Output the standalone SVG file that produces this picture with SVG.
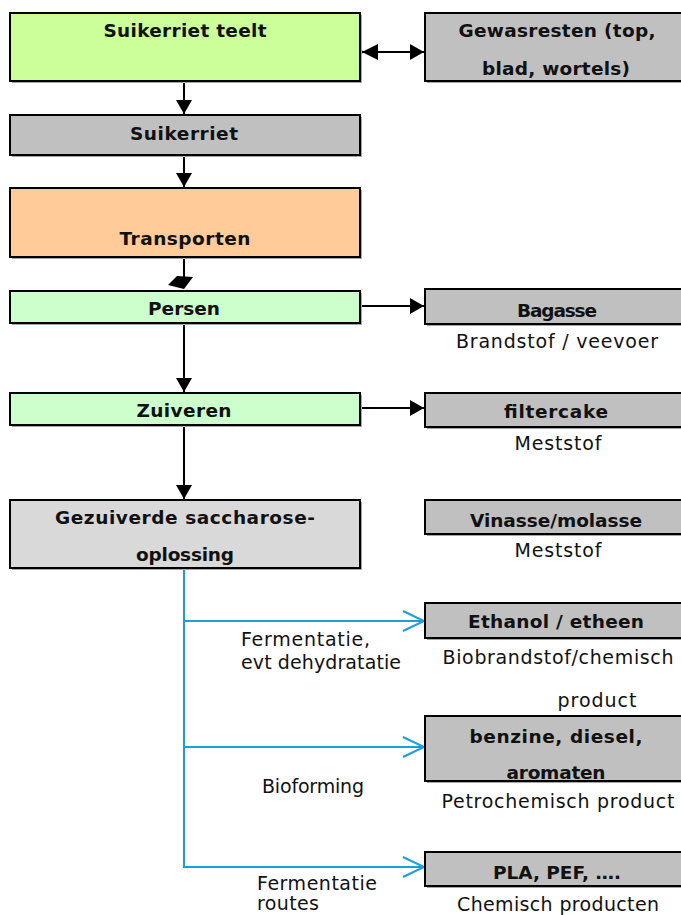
<svg xmlns="http://www.w3.org/2000/svg" width="681" height="915" viewBox="0 0 681 915">
<style>
.box{stroke:#000;stroke-width:2}
.sh{fill:#a6a6a6}
.b{font-family:"DejaVu Sans",sans-serif;font-weight:bold;font-size:18.5px;fill:#111;text-anchor:middle}
.r{font-family:"DejaVu Sans",sans-serif;font-size:19px;fill:#111;text-anchor:middle}
.l{font-family:"DejaVu Sans",sans-serif;font-size:19px;fill:#111}
.k{stroke:#000;stroke-width:2;fill:none}
.bl{stroke:#1a9fdb;stroke-width:2;fill:none}
</style>
<defs>
<marker id="ah" markerWidth="16" markerHeight="16" refX="14" refY="8" orient="auto" markerUnits="userSpaceOnUse">
<path d="M0,0 L14,8 L0,16 Z" fill="#000"/>
</marker>
<marker id="ob" markerWidth="26" markerHeight="24" refX="22" refY="12" orient="auto" markerUnits="userSpaceOnUse">
<path d="M1,2 L22,12 L1,22" fill="none" stroke="#1a9fdb" stroke-width="2"/>
</marker>
</defs>

<g id="connectors">
<line class="k" x1="184" y1="81" x2="184" y2="114" marker-end="url(#ah)"/>
<line class="k" x1="184" y1="155" x2="184" y2="187" marker-end="url(#ah)"/>
<line class="k" x1="184" y1="257" x2="184" y2="277"/>
<polygon points="177,276 193,277 184,289 168,285" fill="#000"/>
<line class="k" x1="184" y1="323" x2="184" y2="392" marker-end="url(#ah)"/>
<line class="k" x1="184" y1="425" x2="184" y2="499" marker-end="url(#ah)"/>
<circle cx="359" cy="52" r="3.5" fill="#000"/>
<line class="k" x1="362" y1="52" x2="424" y2="52" marker-end="url(#ah)"/>
<polygon points="362,52 378,44 378,60" fill="#000"/>
<line class="k" x1="360" y1="306" x2="424" y2="306" marker-end="url(#ah)"/>
<line class="k" x1="360" y1="408" x2="424" y2="408" marker-end="url(#ah)"/>
<line class="bl" x1="184" y1="568" x2="184" y2="868"/>
<line class="bl" x1="183" y1="621" x2="424" y2="621" marker-end="url(#ob)"/>
<line class="bl" x1="183" y1="747" x2="424" y2="747" marker-end="url(#ob)"/>
<line class="bl" x1="183" y1="867" x2="424" y2="867" marker-end="url(#ob)"/>
<text class="l" x="241" y="646" textLength="129" lengthAdjust="spacing">Fermentatie,</text>
<text class="l" x="241" y="669" textLength="160" lengthAdjust="spacing">evt dehydratatie</text>
<text class="l" x="262" y="793" textLength="102" lengthAdjust="spacing">Bioforming</text>
<text class="l" x="257" y="890" textLength="120" lengthAdjust="spacing">Fermentatie</text>
<text class="l" x="257" y="910" textLength="62" lengthAdjust="spacing">routes</text>
</g>

<g id="n-teelt">
<rect class="sh" x="12" y="15" width="350" height="68"/>
<rect class="box" x="10" y="13" width="350" height="68" fill="#ccff99"/>
<text class="b" x="185" y="37" textLength="163" lengthAdjust="spacing">Suikerriet teelt</text>
</g>
<g id="n-suikerriet">
<rect class="sh" x="12" y="117" width="350" height="40"/>
<rect class="box" x="10" y="115" width="350" height="40" fill="#c0c0c0"/>
<text class="b" x="184" y="140" textLength="108" lengthAdjust="spacing">Suikerriet</text>
</g>
<g id="n-transporten">
<rect class="sh" x="12" y="190" width="350" height="69"/>
<rect class="box" x="10" y="188" width="350" height="69" fill="#ffcc99"/>
<text class="b" x="185" y="245" textLength="131" lengthAdjust="spacing">Transporten</text>
</g>
<g id="n-persen">
<rect class="sh" x="12" y="293" width="350" height="32"/>
<rect class="box" x="10" y="291" width="350" height="32" fill="#ccffcc"/>
<text class="b" x="184" y="315" textLength="72" lengthAdjust="spacing">Persen</text>
</g>
<g id="n-zuiveren">
<rect class="sh" x="12" y="395" width="350" height="32"/>
<rect class="box" x="10" y="393" width="350" height="32" fill="#ccffcc"/>
<text class="b" x="184" y="417" textLength="95" lengthAdjust="spacing">Zuiveren</text>
</g>
<g id="n-gezuiverde">
<rect class="sh" x="12" y="502" width="350" height="68"/>
<rect class="box" x="10" y="500" width="350" height="68" fill="#d9d9d9"/>
<text class="b" x="185" y="524" textLength="260" lengthAdjust="spacing">Gezuiverde saccharose-</text>
<text class="b" x="185" y="561" textLength="98" lengthAdjust="spacing">oplossing</text>
</g>

<g id="n-gewasresten">
<rect class="sh" x="427" y="15" width="265" height="68"/>
<rect class="box" x="425" y="13" width="265" height="68" fill="#c0c0c0"/>
<text class="b" x="557" y="37" textLength="197" lengthAdjust="spacing">Gewasresten (top,</text>
<text class="b" x="556" y="75" textLength="148" lengthAdjust="spacing">blad, wortels)</text>
</g>
<g id="n-bagasse">
<rect class="sh" x="427" y="291" width="265" height="35"/>
<rect class="box" x="425" y="289" width="265" height="35" fill="#c0c0c0"/>
<text class="b" x="557" y="317" textLength="80" lengthAdjust="spacing">Bagasse</text>
<text class="r" x="557" y="348" textLength="202" lengthAdjust="spacing">Brandstof / veevoer</text>
</g>
<g id="n-filtercake">
<rect class="sh" x="427" y="395" width="265" height="34"/>
<rect class="box" x="425" y="393" width="265" height="34" fill="#c0c0c0"/>
<text class="b" x="556" y="418" textLength="104" lengthAdjust="spacing">filtercake</text>
<text class="r" x="558" y="450" textLength="87" lengthAdjust="spacing">Meststof</text>
</g>
<g id="n-vinasse">
<rect class="sh" x="427" y="502" width="265" height="34"/>
<rect class="box" x="425" y="500" width="265" height="34" fill="#c0c0c0"/>
<text class="b" x="556" y="527" textLength="172" lengthAdjust="spacing">Vinasse/molasse</text>
<text class="r" x="558" y="557" textLength="87" lengthAdjust="spacing">Meststof</text>
</g>
<g id="n-ethanol">
<rect class="sh" x="427" y="605" width="265" height="35"/>
<rect class="box" x="425" y="603" width="265" height="35" fill="#c0c0c0"/>
<text class="b" x="556" y="628" textLength="176" lengthAdjust="spacing">Ethanol / etheen</text>
<text class="r" x="558" y="664" textLength="231" lengthAdjust="spacing">Biobrandstof/chemisch</text>
<text class="r" x="597" y="707" textLength="79" lengthAdjust="spacing">product</text>
</g>
<g id="n-benzine">
<rect class="sh" x="427" y="718" width="265" height="65"/>
<rect class="box" x="425" y="716" width="265" height="65" fill="#c0c0c0"/>
<text class="b" x="556" y="743" textLength="173" lengthAdjust="spacing">benzine, diesel,</text>
<text class="b" x="556" y="779" textLength="99" lengthAdjust="spacing">aromaten</text>
<text class="r" x="558" y="808" textLength="233" lengthAdjust="spacing">Petrochemisch product</text>
</g>
<g id="n-pla">
<rect class="sh" x="427" y="854" width="265" height="34"/>
<rect class="box" x="425" y="852" width="265" height="34" fill="#c0c0c0"/>
<text class="b" x="557" y="879" textLength="128" lengthAdjust="spacing">PLA, PEF, ….</text>
<text class="r" x="558" y="911" textLength="202" lengthAdjust="spacing">Chemisch producten</text>
</g>
</svg>
